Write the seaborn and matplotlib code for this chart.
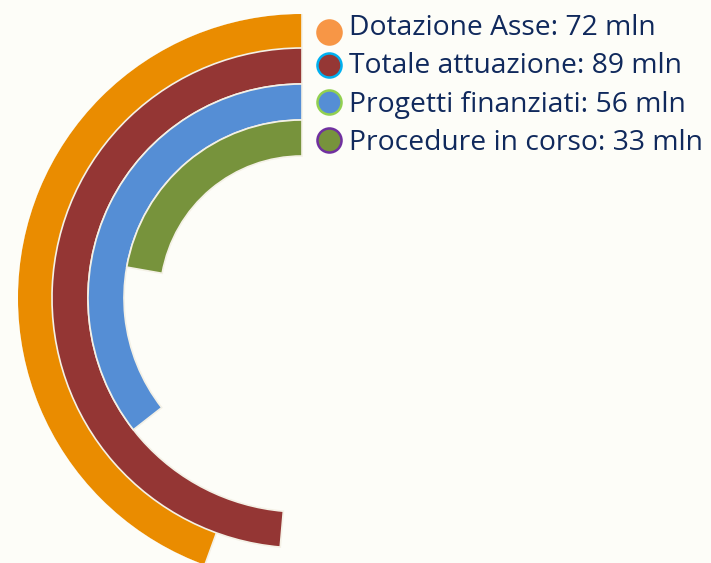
import numpy as np
import matplotlib
matplotlib.use("Agg")
import matplotlib.pyplot as plt
import seaborn as sns

# legend labels and amounts (mln)
series = ["Dotazione Asse", "Totale attuazione", "Progetti finanziati", "Procedure in corso"]
amounts = [72, 89, 56, 33]
# sweep of each ring as drawn in the picture (degrees, counter-clockwise from 12 o'clock)
sweep_deg = [160, 175, 128, 80]

bar_colors = ["#EA8C00", "#943634", "#558ED5", "#77933C"]
dot_fill = ["#F79646", "#953735", "#558ED5", "#77933C"]
dot_edge = ["#F79646", "#00B0F0", "#92D050", "#7030A0"]
bg = "#FDFDF8"

sns.set_theme(style="white")
plt.rcParams["font.family"] = ["Open Sans", "DejaVu Sans"]

fig = plt.figure(figsize=(7.11, 5.63), dpi=100, facecolor=bg)

# polar axes placed so 1 radial unit = 1 pixel, centre at (302, 298)
cx, cy, R = 302, 298, 284
ax = fig.add_axes([(cx - R) / 711, (563 - cy - R) / 563, 2 * R / 711, 2 * R / 563],
                  projection="polar")
ax.set_theta_zero_location("N")
ax.set_theta_direction(1)
ax.set_ylim(0, R)
ax.set_facecolor("none")
ax.axis("off")

ring_inner = [249, 214, 178, 142]
ring_width = 36
for sw, r0, c in zip(sweep_deg, ring_inner, bar_colors):
    ax.bar(0, ring_width, width=np.deg2rad(sw), bottom=r0, align="edge",
           color=c, edgecolor="#F4F1E6", linewidth=1.2)

# legend drawn in pixel coordinates
lg = fig.add_axes([0, 0, 1, 1])
lg.set_xlim(0, 711)
lg.set_ylim(563, 0)
lg.axis("off")
lg.set_facecolor("none")
rows = [35, 73, 112, 150]
dots = [32, 65, 102, 140]
for i, (name, amt) in enumerate(zip(series, amounts)):
    lg.scatter(329, dots[i], s=300, color=dot_fill[i], edgecolor=dot_edge[i],
               linewidth=1.8, zorder=3)
    lg.text(349, rows[i], f"{name}: {amt} mln", fontsize=20.3, color="#10295C",
            va="baseline", ha="left")

fig.savefig("out.png", dpi=100, facecolor=bg)
